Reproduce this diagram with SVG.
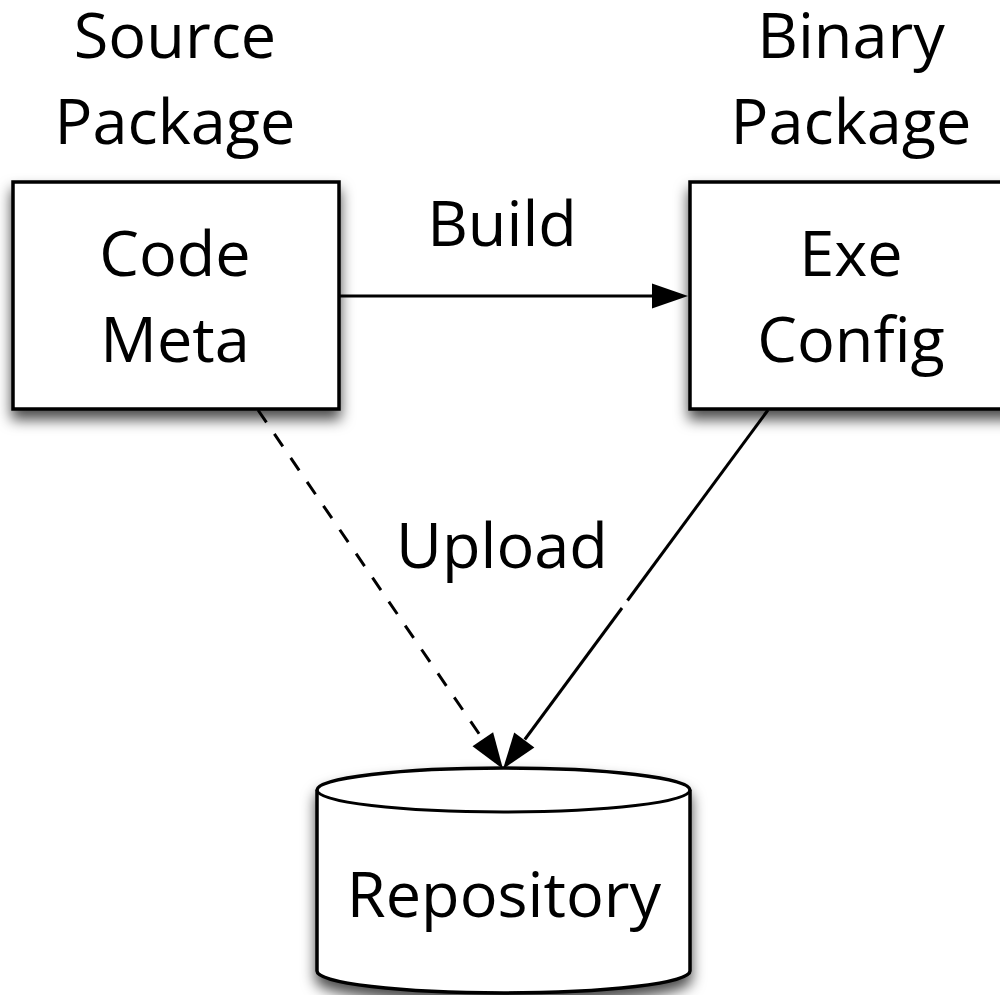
<svg xmlns="http://www.w3.org/2000/svg" width="1000" height="995" viewBox="0 0 1000 995">
  <defs>
    <filter id="shadow" x="-20%" y="-20%" width="140%" height="160%">
      <feDropShadow dx="0" dy="9" stdDeviation="7" flood-color="#000" flood-opacity="0.7"/>
    </filter>
    <style>
      .lbl { font-family: "Open Sans", "Noto Sans", "DejaVu Sans", sans-serif; font-size: 63px; fill: #000; text-anchor: middle; }
      .shape { fill: #fff; stroke: #000; stroke-width: 3.5; }
      .edge { fill: none; stroke: #000; stroke-width: 3; }
      .dash { stroke-dasharray: 15 14; }
      .head { fill: #000; stroke: none; }
    </style>
  </defs>
  <rect width="1000" height="995" fill="#fff"/>

  <!-- connectors -->
  <g id="connectors">
    <g id="edge-build">
      <line class="edge" x1="339" y1="296" x2="653" y2="296"/>
      <polygon class="head" points="652,283.5 688,296 652,308.5"/>
      <text class="lbl" x="502" y="246">Build</text>
    </g>
    <g id="edge-upload-source">
      <line class="edge dash" x1="258" y1="410" x2="482.8" y2="739.2"/>
      <polygon class="head" points="493.1,732.2 503,769 472.5,746.2"/>
    </g>
    <g id="edge-upload-binary">
      <line class="edge" x1="768" y1="410" x2="627.5" y2="600.5"/>
      <line class="edge" x1="622" y1="608" x2="524.8" y2="739.5"/>
      <polygon class="head" points="534.4,747.4 503,769 514.2,732.6"/>
    </g>
    <text class="lbl" x="502" y="568">Upload</text>
  </g>

  <!-- source package -->
  <g id="node-source">
    <text class="lbl" x="175" y="58">Source</text>
    <text class="lbl" x="175" y="144">Package</text>
    <rect class="shape" x="13" y="182" width="326" height="227" filter="url(#shadow)"/>
    <text class="lbl" x="175" y="276">Code</text>
    <text class="lbl" x="175" y="362">Meta</text>
  </g>

  <!-- binary package -->
  <g id="node-binary">
    <text class="lbl" x="851" y="58">Binary</text>
    <text class="lbl" x="851" y="144">Package</text>
    <rect class="shape" x="690" y="182" width="326" height="227" filter="url(#shadow)"/>
    <text class="lbl" x="851" y="276">Exe</text>
    <text class="lbl" x="851" y="362">Config</text>
  </g>

  <!-- repository -->
  <g id="node-repository">
    <path class="shape" filter="url(#shadow)" d="M317,790 A186.5,22 0 0 1 690,790 V971 A186.5,22 0 0 1 317,971 Z"/>
    <path class="edge" stroke-width="3.5" d="M317,790 A186.5,22 0 0 0 690,790"/>
    <text class="lbl" x="504" y="917">Repository</text>
  </g>
</svg>
